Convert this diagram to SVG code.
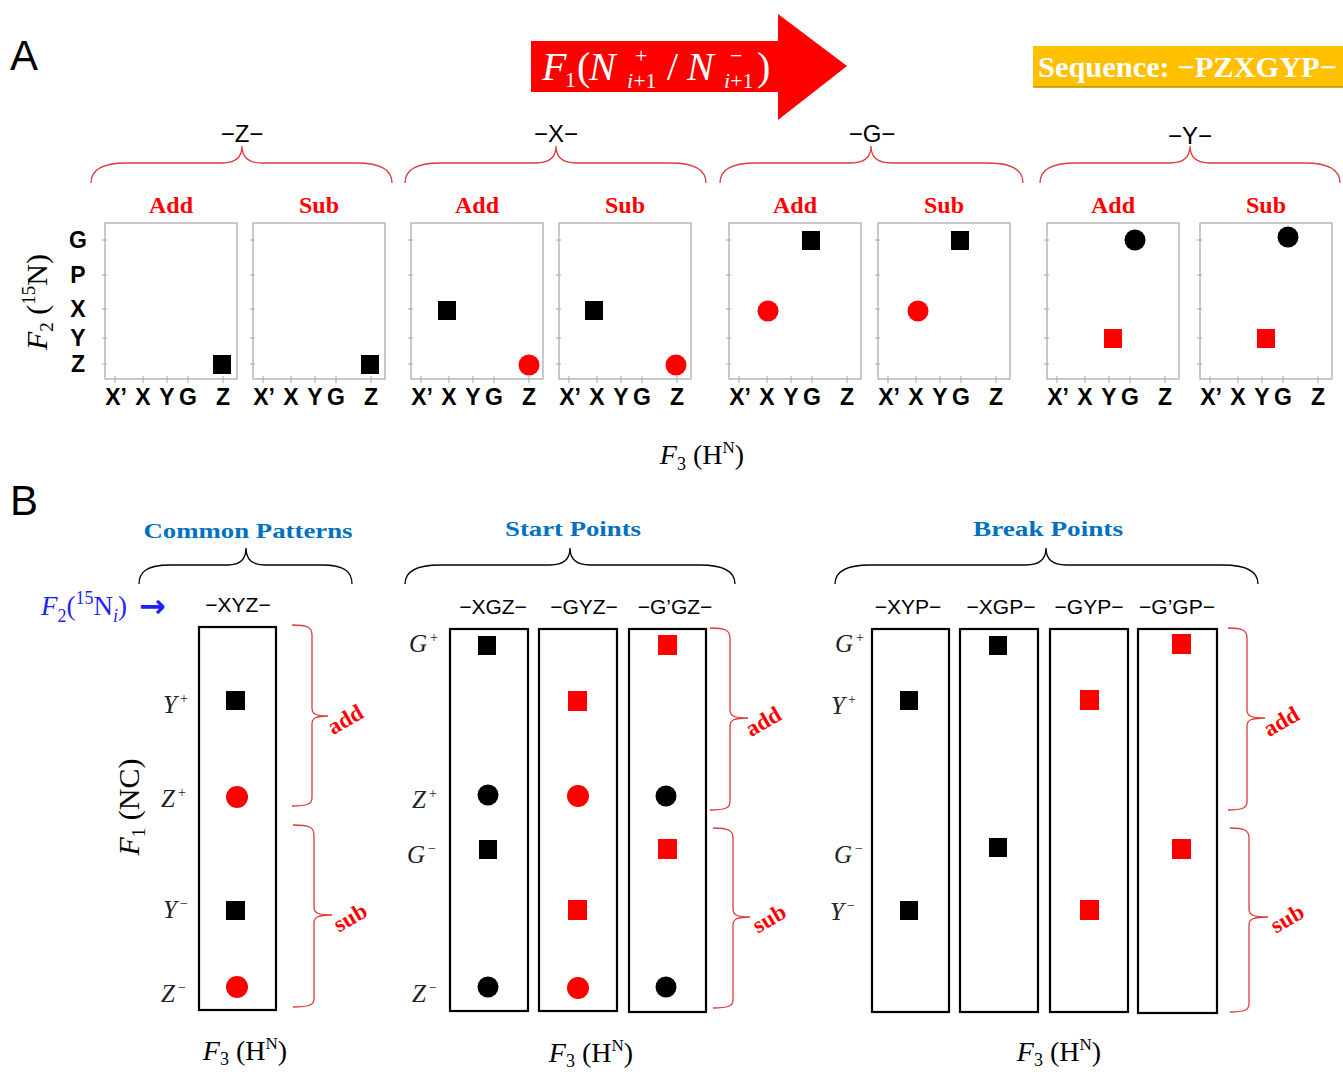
<svg xmlns="http://www.w3.org/2000/svg" xmlns:xlink="http://www.w3.org/1999/xlink" width="1343" height="1072" viewBox="0 0 1343 1072">
<style>
.pbox{fill:#fff;stroke:#a6a6a6;stroke-width:1.2}
.tick{stroke:#a6a6a6;stroke-width:1}
.ax{font-family:"Liberation Sans",Arial,sans-serif;font-weight:bold;font-size:23px;text-anchor:middle;fill:#000}
.hdr{font-family:"Liberation Serif","Times New Roman",serif;font-weight:bold;font-size:24px;fill:#ff0000;text-anchor:middle}
.grp{font-family:"Liberation Sans",Arial,sans-serif;font-size:24px;text-anchor:middle;fill:#000}
.seq{font-family:"Liberation Sans",Arial,sans-serif;font-size:21px;text-anchor:middle;fill:#000}
.rb{fill:none;stroke:#e03a3a;stroke-width:1.3}
.bb{fill:none;stroke:#000;stroke-width:1.3}
.bbox{fill:#fff;stroke:#000;stroke-width:2.2}
.k{fill:#000}
.r{fill:#ff0000}
.lab{font-family:"Liberation Serif","Times New Roman",serif;font-style:italic;font-size:25px;fill:#222}
.sup{font-style:normal;font-size:14px}
.math{font-family:"Liberation Serif","Times New Roman",serif;fill:#000}
.blu{font-family:"Liberation Serif","Times New Roman",serif;font-weight:bold;font-size:22px;fill:#0070c0;text-anchor:middle}
.rot{font-family:"Liberation Serif","Times New Roman",serif;font-weight:bold;font-size:23px;fill:#ff0000;text-anchor:middle}
.big{font-family:"Liberation Sans",Arial,sans-serif;font-size:42px;fill:#000}
</style>
<defs>
<g id="frame">
<rect class="pbox" x="0" y="0" width="132" height="156"/>
<path class="tick" d="M-3,17H2M-3,52H2M-3,86H2M-3,115H2M-3,141H2M10,153V160M38,153V160M62,153V160M83,153V160M118,153V160"/>
</g>
</defs>

<g id="panelA">
<text class="big" x="10" y="70">A</text>
<g id="arrow">
<polygon points="531,41 778,41 778,14 847,66 778,120 778,92 531,92" fill="#ff0000"/>
<g fill="#fff" font-family="Liberation Serif,Times New Roman,serif">
<text x="542" y="80" font-size="40" font-style="italic">F</text>
<text x="565" y="87" font-size="22">1</text>
<text x="577" y="80" font-size="40">(</text>
<text x="589" y="80" font-size="40" font-style="italic">N</text>
<text x="635" y="63" font-size="22">+</text>
<text x="627" y="88" font-size="22"><tspan font-style="italic">i</tspan>+1</text>
<text x="667" y="80" font-size="40">/</text>
<text x="687" y="80" font-size="40" font-style="italic">N</text>
<text x="730" y="63" font-size="22">−</text>
<text x="724" y="88" font-size="22"><tspan font-style="italic">i</tspan>+1</text>
<text x="757" y="80" font-size="40">)</text>
</g>
</g>
<g id="sequence">
<rect x="1033" y="46" width="310" height="41" fill="#ffc000"/>
<line x1="1033" y1="87" x2="1343" y2="87" stroke="#c09000" stroke-width="1.5"/>
<text x="1038" y="77" font-family="Liberation Serif,Times New Roman,serif" font-weight="bold" font-size="29" fill="#fff" textLength="299" lengthAdjust="spacingAndGlyphs">Sequence: −PZXGYP−</text>
</g>

<g id="braces-A">
<text class="grp" x="242" y="142">−Z−</text>
<text class="grp" x="556" y="142">−X−</text>
<text class="grp" x="872" y="142">−G−</text>
<text class="grp" x="1190" y="144">−Y−</text>
<path class="rb" d="M91,183 C91,170 101,163 126,163 L222,163 C234,163 242,158 242,146 C242,158 250,163 262,163 L357,163 C382,163 392,170 392,183"/>
<path class="rb" d="M405,183 C405,170 415,163 440,163 L536,163 C548,163 556,158 556,146 C556,158 564,163 576,163 L671,163 C696,163 706,170 706,183"/>
<path class="rb" d="M720,183 C720,170 730,163 755,163 L851,163 C863,163 871,158 871,146 C871,158 879,163 891,163 L988,163 C1013,163 1023,170 1023,183"/>
<path class="rb" d="M1040,183 C1040,170 1050,163 1075,163 L1170,163 C1182,163 1190,158 1190,146 C1190,158 1198,163 1210,163 L1305,163 C1330,163 1340,170 1340,183"/>
<text class="hdr" x="171" y="213">Add</text>
<text class="hdr" x="319" y="213">Sub</text>
<text class="hdr" x="477" y="213">Add</text>
<text class="hdr" x="625" y="213">Sub</text>
<text class="hdr" x="795" y="213">Add</text>
<text class="hdr" x="944" y="213">Sub</text>
<text class="hdr" x="1113" y="213">Add</text>
<text class="hdr" x="1266" y="213">Sub</text>
</g>

<g id="yaxis">
<text class="ax" x="78" y="248">G</text>
<text class="ax" x="78" y="283">P</text>
<text class="ax" x="78" y="317">X</text>
<text class="ax" x="78" y="346">Y</text>
<text class="ax" x="78" y="372">Z</text>
<g transform="translate(47,302) rotate(-90)">
<text class="math" x="0" y="0" font-size="30" text-anchor="middle"><tspan font-style="italic">F</tspan><tspan font-size="19" dy="6">2</tspan><tspan dy="-6"> (</tspan><tspan font-size="19" dy="-12">15</tspan><tspan dy="12">N)</tspan></text>
</g>
</g>

<g id="plot1"><use xlink:href="#frame" x="105" y="223"/><rect class="k" x="213" y="355" width="18" height="19"/></g>
<g id="plot2"><use xlink:href="#frame" x="253" y="223"/><rect class="k" x="361" y="355" width="18" height="19"/></g>
<g id="plot3"><use xlink:href="#frame" x="411" y="223"/><rect class="k" x="438" y="301" width="18" height="19"/><circle class="r" cx="529" cy="365" r="10.5"/></g>
<g id="plot4"><use xlink:href="#frame" x="559" y="223"/><rect class="k" x="585" y="301" width="18" height="19"/><circle class="r" cx="676" cy="365" r="10.5"/></g>
<g id="plot5"><use xlink:href="#frame" x="729" y="223"/><rect class="k" x="802" y="231" width="18" height="19"/><circle class="r" cx="768" cy="311" r="10.5"/></g>
<g id="plot6"><use xlink:href="#frame" x="878" y="223"/><rect class="k" x="951" y="231" width="18" height="19"/><circle class="r" cx="918" cy="311" r="10.5"/></g>
<g id="plot7"><use xlink:href="#frame" x="1047" y="223"/><circle class="k" cx="1135" cy="240" r="10.5"/><rect class="r" x="1104" y="329" width="18" height="19"/></g>
<g id="plot8"><use xlink:href="#frame" x="1200" y="223"/><circle class="k" cx="1288" cy="237" r="10.5"/><rect class="r" x="1257" y="329" width="18" height="19"/></g>

<g id="xaxis">
<g class="ax">
<text x="116" y="405">X’</text><text x="143" y="405">X</text><text x="167" y="405">Y</text><text x="188" y="405">G</text><text x="223" y="405">Z</text>
<text x="264" y="405">X’</text><text x="291" y="405">X</text><text x="315" y="405">Y</text><text x="336" y="405">G</text><text x="371" y="405">Z</text>
<text x="422" y="405">X’</text><text x="449" y="405">X</text><text x="473" y="405">Y</text><text x="494" y="405">G</text><text x="529" y="405">Z</text>
<text x="570" y="405">X’</text><text x="597" y="405">X</text><text x="621" y="405">Y</text><text x="642" y="405">G</text><text x="677" y="405">Z</text>
<text x="740" y="405">X’</text><text x="767" y="405">X</text><text x="791" y="405">Y</text><text x="812" y="405">G</text><text x="847" y="405">Z</text>
<text x="889" y="405">X’</text><text x="916" y="405">X</text><text x="940" y="405">Y</text><text x="961" y="405">G</text><text x="996" y="405">Z</text>
<text x="1058" y="405">X’</text><text x="1085" y="405">X</text><text x="1109" y="405">Y</text><text x="1130" y="405">G</text><text x="1165" y="405">Z</text>
<text x="1211" y="405">X’</text><text x="1238" y="405">X</text><text x="1262" y="405">Y</text><text x="1283" y="405">G</text><text x="1318" y="405">Z</text>
</g>
<text class="math" x="702" y="464" font-size="28" text-anchor="middle"><tspan font-style="italic">F</tspan><tspan font-size="18" dy="6">3</tspan><tspan dy="-6"> (H</tspan><tspan font-size="17" dy="-11">N</tspan><tspan dy="11">)</tspan></text>
</g>
</g>

<g id="panelB">
<text class="big" x="10" y="515">B</text>
<g id="headers-B">
<text class="blu" x="248" y="538" textLength="209" lengthAdjust="spacingAndGlyphs">Common Patterns</text>
<text class="blu" x="573" y="536" textLength="136" lengthAdjust="spacingAndGlyphs">Start Points</text>
<text class="blu" x="1048" y="536" textLength="150" lengthAdjust="spacingAndGlyphs">Break Points</text>
<path class="bb" d="M139,584 C139,572 147,565 170,565 L228,565 C240,565 246,560 246,548 C246,560 252,565 264,565 L322,565 C345,565 352,572 352,584"/>
<path class="bb" d="M405,584 C405,572 415,565 440,565 L550,565 C562,565 570,560 570,548 C570,560 578,565 590,565 L700,565 C725,565 735,572 735,584"/>
<path class="bb" d="M835,584 C835,572 845,565 870,565 L1026,565 C1038,565 1046,560 1046,548 C1046,560 1054,565 1066,565 L1223,565 C1248,565 1258,572 1258,584"/>
<text class="math" x="41" y="615" font-size="27" fill="#1f1fff"><tspan font-style="italic" fill="#1f1fff">F</tspan><tspan font-size="18" dy="7" fill="#1f1fff">2</tspan><tspan dy="-7" fill="#1f1fff">(</tspan><tspan font-size="18" dy="-11" fill="#1f1fff">15</tspan><tspan dy="11" fill="#1f1fff">N</tspan><tspan font-size="18" dy="7" font-style="italic" fill="#1f1fff">i</tspan><tspan dy="-7" fill="#1f1fff">)</tspan></text>
<text x="139" y="617" font-family="DejaVu Sans,sans-serif" font-weight="bold" font-size="32" fill="#1f1fff">→</text>
<text class="seq" x="238" y="612">−XYZ−</text>
<text class="seq" x="493" y="614">−XGZ−</text>
<text class="seq" x="584" y="614">−GYZ−</text>
<text class="seq" x="675" y="614">−G’GZ−</text>
<text class="seq" x="908" y="614">−XYP−</text>
<text class="seq" x="1001" y="614">−XGP−</text>
<text class="seq" x="1089" y="614">−GYP−</text>
<text class="seq" x="1177" y="614">−G’GP−</text>
</g>

<g id="common">
<rect class="bbox" x="199" y="627" width="77" height="383"/>
<rect class="k" x="226" y="691" width="19" height="19"/>
<circle class="r" cx="237" cy="797" r="11"/>
<rect class="k" x="226" y="901" width="19" height="19"/>
<circle class="r" cx="237" cy="987" r="11"/>
<text class="lab" x="163" y="713">Y<tspan class="sup" dx="3" dy="-10">+</tspan></text>
<text class="lab" x="161" y="807">Z<tspan class="sup" dx="3" dy="-10">+</tspan></text>
<text class="lab" x="163" y="918">Y<tspan class="sup" dx="3" dy="-10">−</tspan></text>
<text class="lab" x="161" y="1002">Z<tspan class="sup" dx="3" dy="-10">−</tspan></text>
<g transform="translate(139,807) rotate(-90)"><text class="math" x="0" y="0" font-size="30" text-anchor="middle"><tspan font-style="italic">F</tspan><tspan font-size="19" dy="6">1</tspan><tspan dy="-6"> (NC)</tspan></text></g>
<path class="rb" d="M292,625 C307,625 312,627 312,635 L312,708 C312,714 316,716 328,716 C316,716 312,718 312,724 L312,798 C312,804 307,806 292,806"/>
<path class="rb" d="M293,825 C309,825 314,827 314,835 L314,907 C314,913 318,915 332,915 C318,915 314,917 314,923 L314,999 C314,1005 309,1007 293,1007"/>
<text class="rot" transform="translate(349,726) rotate(-30)">add</text>
<text class="rot" transform="translate(354,924) rotate(-30)">sub</text>
</g>

<g id="start">
<rect class="bbox" x="450" y="629" width="78" height="382"/>
<rect class="bbox" x="539" y="629" width="78" height="382"/>
<rect class="bbox" x="629" y="629" width="77" height="383"/>
<rect class="k" x="478" y="636" width="18" height="19"/>
<circle class="k" cx="488" cy="795" r="10.5"/>
<rect class="k" x="479" y="840" width="18" height="19"/>
<circle class="k" cx="488" cy="987" r="10.5"/>
<rect class="r" x="568" y="691" width="19" height="20"/>
<circle class="r" cx="578" cy="796" r="11"/>
<rect class="r" x="568" y="900" width="19" height="20"/>
<circle class="r" cx="578" cy="988" r="11"/>
<rect class="r" x="658" y="635" width="19" height="20"/>
<circle class="k" cx="666" cy="796" r="10.5"/>
<rect class="r" x="658" y="839" width="19" height="20"/>
<circle class="k" cx="666" cy="987" r="10.5"/>
<text class="lab" x="409" y="652">G<tspan class="sup" dx="3" dy="-10">+</tspan></text>
<text class="lab" x="412" y="808">Z<tspan class="sup" dx="3" dy="-10">+</tspan></text>
<text class="lab" x="407" y="863">G<tspan class="sup" dx="3" dy="-10">−</tspan></text>
<text class="lab" x="412" y="1002">Z<tspan class="sup" dx="3" dy="-10">−</tspan></text>
<path class="rb" d="M710,628 C725,628 730,630 730,638 L730,710 C730,716 734,718 748,718 C734,718 730,720 730,726 L730,802 C730,808 725,810 710,810"/>
<path class="rb" d="M713,828 C728,828 733,830 733,838 L733,909 C733,915 737,917 750,917 C737,917 733,919 733,925 L733,1000 C733,1006 728,1008 713,1008"/>
<text class="rot" transform="translate(767,728) rotate(-30)">add</text>
<text class="rot" transform="translate(773,925) rotate(-30)">sub</text>
</g>

<g id="break">
<rect class="bbox" x="872" y="629" width="77" height="383"/>
<rect class="bbox" x="960" y="629" width="78" height="383"/>
<rect class="bbox" x="1050" y="629" width="78" height="383"/>
<rect class="bbox" x="1138" y="629" width="79" height="384"/>
<rect class="k" x="900" y="691" width="18" height="19"/>
<rect class="k" x="900" y="901" width="18" height="19"/>
<rect class="k" x="989" y="636" width="18" height="19"/>
<rect class="k" x="989" y="838" width="18" height="19"/>
<rect class="r" x="1080" y="690" width="19" height="20"/>
<rect class="r" x="1080" y="900" width="19" height="20"/>
<rect class="r" x="1172" y="634" width="19" height="20"/>
<rect class="r" x="1172" y="839" width="19" height="20"/>
<text class="lab" x="835" y="652">G<tspan class="sup" dx="3" dy="-10">+</tspan></text>
<text class="lab" x="831" y="714">Y<tspan class="sup" dx="3" dy="-10">+</tspan></text>
<text class="lab" x="834" y="863">G<tspan class="sup" dx="3" dy="-10">−</tspan></text>
<text class="lab" x="830" y="920">Y<tspan class="sup" dx="3" dy="-10">−</tspan></text>
<path class="rb" d="M1228,628 C1242,628 1247,630 1247,638 L1247,710 C1247,716 1251,718 1265,718 C1251,718 1247,720 1247,726 L1247,802 C1247,808 1242,810 1228,810"/>
<path class="rb" d="M1230,828 C1244,828 1249,830 1249,838 L1249,909 C1249,915 1253,917 1268,917 C1253,917 1249,919 1249,925 L1249,1004 C1249,1010 1244,1012 1230,1012"/>
<text class="rot" transform="translate(1285,728) rotate(-30)">add</text>
<text class="rot" transform="translate(1291,925) rotate(-30)">sub</text>
</g>

<g id="xlabels-B">
<text class="math" x="245" y="1060" font-size="28" text-anchor="middle"><tspan font-style="italic">F</tspan><tspan font-size="18" dy="5">3</tspan><tspan dy="-5"> (H</tspan><tspan font-size="17" dy="-11">N</tspan><tspan dy="11">)</tspan></text>
<text class="math" x="591" y="1062" font-size="28" text-anchor="middle"><tspan font-style="italic">F</tspan><tspan font-size="18" dy="5">3</tspan><tspan dy="-5"> (H</tspan><tspan font-size="17" dy="-11">N</tspan><tspan dy="11">)</tspan></text>
<text class="math" x="1059" y="1061" font-size="28" text-anchor="middle"><tspan font-style="italic">F</tspan><tspan font-size="18" dy="5">3</tspan><tspan dy="-5"> (H</tspan><tspan font-size="17" dy="-11">N</tspan><tspan dy="11">)</tspan></text>
</g>
</g>
</svg>
